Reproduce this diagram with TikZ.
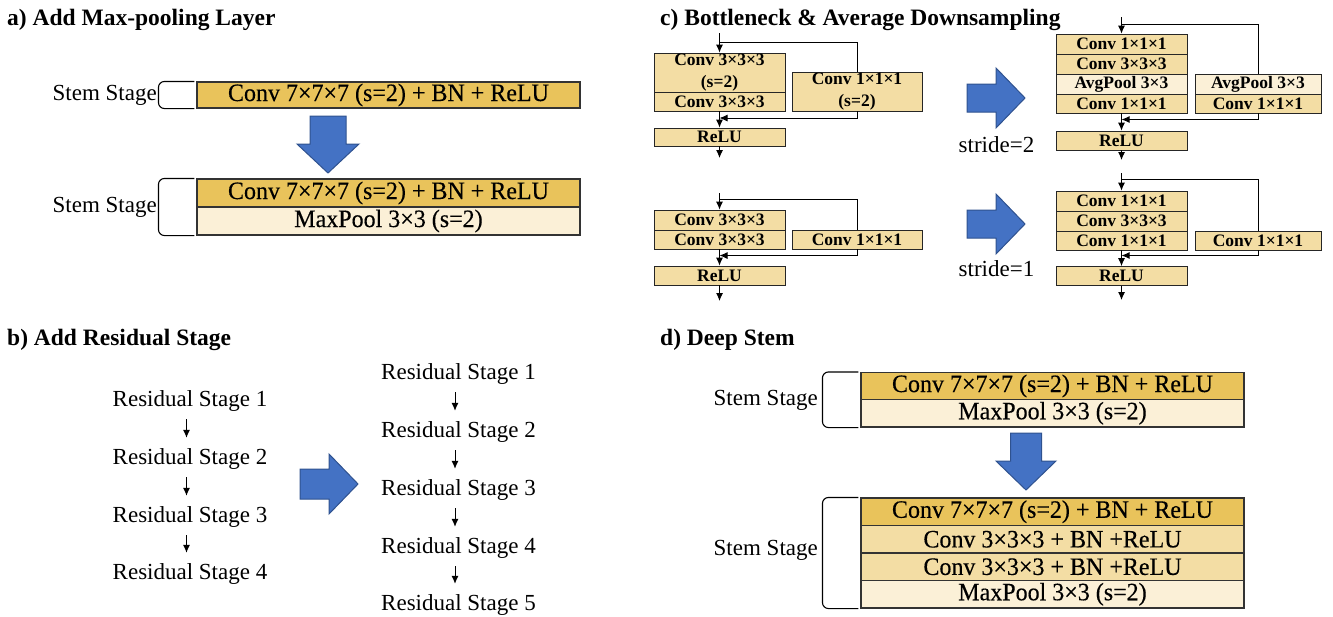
\documentclass[tikz,border=0pt]{standalone}
\usepackage{fontspec}
\setmainfont{Liberation Serif}
\newfontfamily\stemface[FakeStretch=0.96,FakeBold=0.3]{Liberation Serif}
\usetikzlibrary{arrows.meta}

\definecolor{stemgold}{HTML}{E9C35B}
\definecolor{convtan}{HTML}{F3DDA4}
\definecolor{poolcream}{HTML}{FBF0D7}
\definecolor{bigblue}{HTML}{4472C4}
\definecolor{bigblueedge}{HTML}{2F528F}

\newcommand\titlefont{\fontsize{23.5}{28}\selectfont\bfseries}
\newcommand\labelfont{\fontsize{23}{28}\selectfont}
\newcommand\stemfont{\stemface\fontsize{25}{28}\selectfont}
\newcommand\blockfont{\fontsize{17.5}{22}\selectfont\bfseries}

\tikzset{
  paneltitle/.style={anchor=base west, inner sep=0pt, font=\titlefont},
  stagelabel/.style={inner sep=0pt, font=\labelfont},
  stemrow/.style={draw=black!80, line width=1.1pt, inner sep=0pt, minimum width=383pt, font=\stemfont},
  blockrow/.style={draw=black!85, line width=0.8pt, inner sep=0pt, font=\blockfont, align=center},
  bracket/.style={draw=black, line width=1.1pt, rounded corners=6pt},
  flowarrow/.style={draw=black, line width=0.9pt, -{Latex[length=8pt,width=7pt]}},
  shortcut/.style={draw=black, line width=0.9pt},
  stagearrow/.style={draw=black, line width=1pt, -{Latex[length=8pt,width=7pt]}},
  bigarrow/.style={fill=bigblue, draw=bigblueedge, line width=1pt, line join=miter},
}

\begin{document}
\begin{tikzpicture}[x=1pt, y=-1pt]
\useasboundingbox (0,0) rectangle (1333,616);

% ---------------- a) Add Max-pooling Layer ----------------
\node[paneltitle] (ta) at (7,25) {a) Add Max-pooling Layer};
\node[stemrow, fill=stemgold, minimum height=26pt] (a1) at (388.5,95) {Conv 7×7×7 (s=2) + BN + ReLU};
\node[stemrow, fill=stemgold, minimum height=28pt] (a2) at (388.5,193) {Conv 7×7×7 (s=2) + BN + ReLU};
\node[stemrow, fill=poolcream, minimum height=28pt] (a3) at (388.5,221) {MaxPool 3×3 (s=2)};
\draw[bracket] ([xshift=-2pt]a1.north west) -- ++(-36,0) |- ([xshift=-2pt]a1.south west);
\draw[bracket] ([xshift=-2pt]a2.north west) -- ++(-36,0) |- ([xshift=-2pt]a3.south west);
\node[stagelabel, anchor=base east] (sa1) at (157,100) {Stem Stage};
\node[stagelabel, anchor=base east] (sa2) at (157,212) {Stem Stage};
\draw[bigarrow] (310,116) -- (346,116) -- (346,144) -- (359,144) -- (328,173) -- (297,144) -- (310,144) -- cycle;

% ---------------- b) Add Residual Stage ----------------
\node[paneltitle] (tb) at (7,345) {b) Add Residual Stage};
\node[stagelabel, anchor=base] (l1) at (190,406) {Residual Stage 1};
\node[stagelabel, anchor=base] (l2) at (190,464) {Residual Stage 2};
\node[stagelabel, anchor=base] (l3) at (190,522) {Residual Stage 3};
\node[stagelabel, anchor=base] (l4) at (190,579) {Residual Stage 4};
\foreach \u/\v in {l1/l2,l2/l3,l3/l4}
  \draw[stagearrow, shorten <=8pt, shorten >=10pt] ([xshift=-3.5pt]\u.south) -- ([xshift=-3.5pt]\v.north);
\draw[bigarrow] (300,469) -- (329,469) -- (329,454) -- (358,484) -- (329,514) -- (329,499) -- (300,499) -- cycle;
\node[stagelabel, anchor=base] (m1) at (458.5,379) {Residual Stage 1};
\node[stagelabel, anchor=base] (m2) at (458.5,437) {Residual Stage 2};
\node[stagelabel, anchor=base] (m3) at (458.5,495) {Residual Stage 3};
\node[stagelabel, anchor=base] (m4) at (458.5,553) {Residual Stage 4};
\node[stagelabel, anchor=base] (m5) at (458.5,610) {Residual Stage 5};
\foreach \u/\v in {m1/m2,m2/m3,m3/m4,m4/m5}
  \draw[stagearrow, shorten <=8pt, shorten >=10pt] ([xshift=-3.5pt]\u.south) -- ([xshift=-3.5pt]\v.north);

% ---------------- c) Bottleneck & Average Downsampling ----------------
\node[paneltitle] (tc) at (660,25) {c) Bottleneck \& Average Downsampling};

% basic block, stride 2
\node[blockrow, fill=convtan, minimum width=131pt, minimum height=39pt] (p1a) at (719.5,72.5) {Conv 3×3×3\\(s=2)};
\node[blockrow, fill=convtan, minimum width=131pt, minimum height=19pt] (p1b) at (719.5,101.5) {Conv 3×3×3};
\node[blockrow, fill=convtan, minimum width=130pt, minimum height=39pt] (p1s) at (857,91.5) {Conv 1×1×1\\(s=2)};
\node[blockrow, fill=convtan, minimum width=131pt, minimum height=18pt] (p1r) at (719.5,137) {ReLU};
\coordinate (p1in) at (719.5,33);
\coordinate (p1split) at (719.5,42);
\coordinate (p1join) at (719.5,118);
\coordinate (p1out) at (719.5,158);
\draw[flowarrow] (p1in) -- (p1a.north);
\draw[shortcut] (p1split) -| (p1s.north);
\draw[flowarrow] (p1s.south) |- (p1join);
\draw[flowarrow] (p1b.south) -- (p1r.north);
\draw[flowarrow] (p1r.south) -- (p1out);

% bottleneck block, stride 2
\node[blockrow, fill=convtan, minimum width=131pt, minimum height=20pt] (q1) at (1121.5,44) {Conv 1×1×1};
\node[blockrow, fill=convtan, minimum width=131pt, minimum height=20pt] (q2) at (1121.5,64) {Conv 3×3×3};
\node[blockrow, fill=poolcream, minimum width=131pt, minimum height=20pt] (q3) at (1121.5,84) {AvgPool 3×3};
\node[blockrow, fill=convtan, minimum width=131pt, minimum height=19pt] (q4) at (1121.5,103.5) {Conv 1×1×1};
\node[blockrow, fill=poolcream, minimum width=126pt, minimum height=20pt] (qs1) at (1258,84) {AvgPool 3×3};
\node[blockrow, fill=convtan, minimum width=126pt, minimum height=19pt] (qs2) at (1258,103.5) {Conv 1×1×1};
\node[blockrow, fill=convtan, minimum width=131pt, minimum height=19pt] (qr) at (1121.5,140.5) {ReLU};
\coordinate (qin) at (1121.5,17);
\coordinate (qsplit) at (1121.5,24);
\coordinate (qjoin) at (1121.5,119.5);
\coordinate (qout) at (1121.5,160);
\draw[flowarrow] (qin) -- (q1.north);
\draw[shortcut] (qsplit) -| (qs1.north);
\draw[flowarrow] (qs2.south) |- (qjoin);
\draw[flowarrow] (q4.south) -- (qr.north);
\draw[flowarrow] (qr.south) -- (qout);

% basic block, stride 1
\node[blockrow, fill=convtan, minimum width=131pt, minimum height=20pt] (r1) at (719.5,220) {Conv 3×3×3};
\node[blockrow, fill=convtan, minimum width=131pt, minimum height=19pt] (r2) at (719.5,239.5) {Conv 3×3×3};
\node[blockrow, fill=convtan, minimum width=130pt, minimum height=19pt] (rs) at (857,239.5) {Conv 1×1×1};
\node[blockrow, fill=convtan, minimum width=131pt, minimum height=19pt] (rr) at (719.5,275.5) {ReLU};
\coordinate (rin) at (719.5,193);
\coordinate (rsplit) at (719.5,199);
\coordinate (rjoin) at (719.5,255.5);
\coordinate (rout) at (719.5,301);
\draw[flowarrow] (rin) -- (r1.north);
\draw[shortcut] (rsplit) -| (rs.north);
\draw[flowarrow] (rs.south) |- (rjoin);
\draw[flowarrow] (r2.south) -- (rr.north);
\draw[flowarrow] (rr.south) -- (rout);

% bottleneck block, stride 1
\node[blockrow, fill=convtan, minimum width=131pt, minimum height=20pt] (s1) at (1121.5,201) {Conv 1×1×1};
\node[blockrow, fill=convtan, minimum width=131pt, minimum height=20pt] (s2) at (1121.5,221) {Conv 3×3×3};
\node[blockrow, fill=convtan, minimum width=131pt, minimum height=19pt] (s3) at (1121.5,240.5) {Conv 1×1×1};
\node[blockrow, fill=convtan, minimum width=126pt, minimum height=19pt] (ss) at (1258,240.5) {Conv 1×1×1};
\node[blockrow, fill=convtan, minimum width=131pt, minimum height=19pt] (sr) at (1121.5,276) {ReLU};
\coordinate (sin) at (1121.5,173);
\coordinate (ssplit) at (1121.5,179);
\coordinate (sjoin) at (1121.5,255.5);
\coordinate (sout) at (1121.5,300);
\draw[flowarrow] (sin) -- (s1.north);
\draw[shortcut] (ssplit) -| (ss.north);
\draw[flowarrow] (ss.south) |- (sjoin);
\draw[flowarrow] (s3.south) -- (sr.north);
\draw[flowarrow] (sr.south) -- (sout);

\draw[bigarrow] (967,84) -- (996,84) -- (996,68) -- (1025,98) -- (996,128) -- (996,112) -- (967,112) -- cycle;
\draw[bigarrow] (967,210) -- (996,210) -- (996,194) -- (1025,224) -- (996,254) -- (996,238) -- (967,238) -- cycle;
\node[stagelabel, anchor=base] (st2) at (996.5,152) {stride=2};
\node[stagelabel, anchor=base] (st1) at (996.5,276) {stride=1};

% ---------------- d) Deep Stem ----------------
\node[paneltitle] (td) at (660,345) {d) Deep Stem};
\node[stemrow, fill=stemgold, minimum height=27pt] (d1) at (1052.5,386) {Conv 7×7×7 (s=2) + BN + ReLU};
\node[stemrow, fill=poolcream, minimum height=27.5pt] (d2) at (1052.5,413.25) {MaxPool 3×3 (s=2)};
\draw[bracket] ([xshift=-2pt]d1.north west) -- ++(-36,0) |- ([xshift=-2pt]d2.south west);
\node[stagelabel, anchor=base east] (sd1) at (818,405) {Stem Stage};
\draw[bigarrow] (1010.5,433) -- (1041.5,433) -- (1041.5,461) -- (1056,461) -- (1026,490) -- (996,461) -- (1010.5,461) -- cycle;
\node[stemrow, fill=stemgold, minimum height=27.5pt] (e1) at (1052.5,511.75) {Conv 7×7×7 (s=2) + BN + ReLU};
\node[stemrow, fill=convtan, minimum height=27.5pt] (e2) at (1052.5,539.25) {Conv 3×3×3 + BN +ReLU};
\node[stemrow, fill=convtan, minimum height=27.5pt] (e3) at (1052.5,566.75) {Conv 3×3×3 + BN +ReLU};
\node[stemrow, fill=poolcream, minimum height=27.5pt] (e4) at (1052.5,594.25) {MaxPool 3×3 (s=2)};
\draw[bracket] ([xshift=-2pt]e1.north west) -- ++(-36,0) |- ([xshift=-2pt]e4.south west);
\node[stagelabel, anchor=base east] (sd2) at (818,555) {Stem Stage};

\end{tikzpicture}
\end{document}
